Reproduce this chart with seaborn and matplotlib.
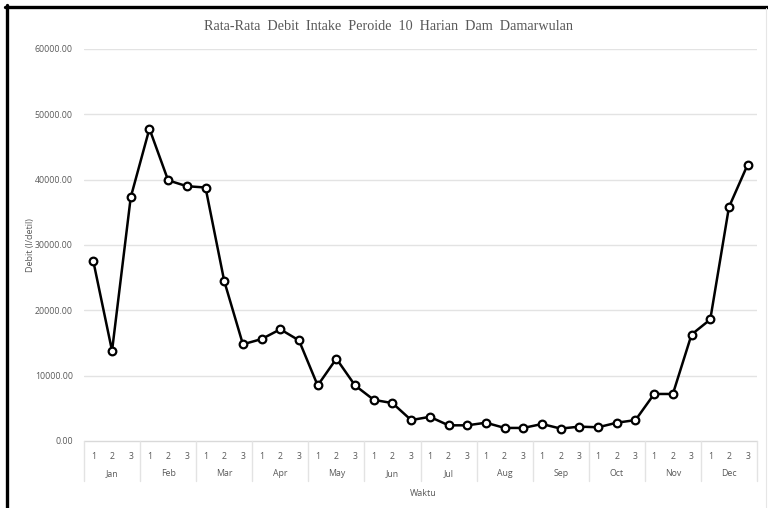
import matplotlib
matplotlib.use("Agg")
import matplotlib.pyplot as plt
import matplotlib.transforms as mtransforms
from matplotlib.lines import Line2D
import seaborn as sns
import pandas as pd
import numpy as np

months = ["Jan", "Feb", "Mar", "Apr", "May", "Jun",
          "Jul", "Aug", "Sep", "Oct", "Nov", "Dec"]
dekads = ["1", "2", "3"]
debit = [27500, 13800, 37300,
         47800, 39900, 39000,
         38800, 24500, 14800,
         15600, 17100, 15400,
         8500, 12600, 8500,
         6300, 5800, 3200,
         3700, 2400, 2400,
         2800, 2000, 2000,
         2600, 1900, 2200,
         2100, 2800, 3200,
         7200, 7200, 16300,
         18600, 35800, 42300]
yticks = [0, 10000, 20000, 30000, 40000, 50000, 60000]

df = pd.DataFrame({
    "pos": np.arange(len(debit)),
    "debit": debit,
})

sns.set_theme(style="white")
plt.rcParams["font.family"] = ["Open Sans", "DejaVu Sans"]

W, H = 768, 508
fig = plt.figure(figsize=(W / 100, H / 100), dpi=100)
fig.patch.set_facecolor("white")
ax = fig.add_axes([84 / W, 1 - 441 / H, (757 - 84) / W, (441 - 49) / H])

grey_txt = "#595959"
grid_c = "#e3e3e3"

for v in yticks[1:]:
    ax.axhline(v, color=grid_c, lw=1.0, zorder=0)

sns.lineplot(data=df, x="pos", y="debit", ax=ax, color="black", lw=1.8,
             marker="o", markersize=5.5, markerfacecolor="white",
             markeredgecolor="black", markeredgewidth=1.6, zorder=3)

ax.set_xlim(-0.5, len(debit) - 0.5)
ax.set_ylim(0, 60000)
ax.set_yticks(yticks)
ax.set_yticklabels([f"{v:.2f}" for v in yticks], color=grey_txt, fontsize=6.3)
ax.tick_params(axis="y", length=0, pad=8)
ax.set_xticks(df["pos"])
ax.set_xticklabels(dekads * len(months), color=grey_txt, fontsize=6.3)
ax.tick_params(axis="x", length=0, pad=8)
for s in ax.spines.values():
    s.set_visible(False)
ax.set_xlabel("")
ax.set_ylabel("")

# multi-level category axis: baseline, month separators and month names
trans = mtransforms.blended_transform_factory(ax.transData, ax.transAxes)
sep_depth = -40 / (441 - 49)
ax.add_line(Line2D([-0.5, len(debit) - 0.5], [0, 0], transform=trans,
                   color="#d9d9d9", lw=1.0, clip_on=False))
for i in range(len(months) + 1):
    x = i * 3 - 0.5
    ax.add_line(Line2D([x, x], [0, sep_depth], transform=trans,
                       color="#e3e3e3", lw=1.0, clip_on=False))
for i, m in enumerate(months):
    ax.text(i * 3 + 1, -33 / (441 - 49), m, transform=trans, ha="center",
            va="center", fontsize=6.3, color=grey_txt)

fig.text(30 / W, 1 - 245 / H, "Debit (l/detil)", ha="center", va="center",
         rotation=90, fontsize=6.5, color=grey_txt)
fig.text(423 / W, 1 - 494 / H, "Waktu", ha="center", va="center",
         fontsize=6.5, color=grey_txt)
fig.text(388 / W, 1 - 27 / H, "Rata-Rata  Debit  Intake  Peroide  10  Harian  Dam  Damarwulan",
         ha="center", va="center", fontsize=10.2, color=grey_txt,
         family=["Liberation Serif", "DejaVu Serif"])

# outer frame
fig.add_artist(Line2D([6.5 / W, 6.5 / W], [0, 1 - 5 / H], transform=fig.transFigure,
                      color="black", lw=2.4))
fig.add_artist(Line2D([5 / W, 1], [1 - 6.5 / H, 1 - 6.5 / H], transform=fig.transFigure,
                      color="black", lw=2.4))
fig.add_artist(Line2D([766 / W, 766 / W], [0, 1 - 8 / H], transform=fig.transFigure,
                      color="#e6e6e6", lw=0.8))

fig.savefig("out.png", dpi=100, facecolor="white")
